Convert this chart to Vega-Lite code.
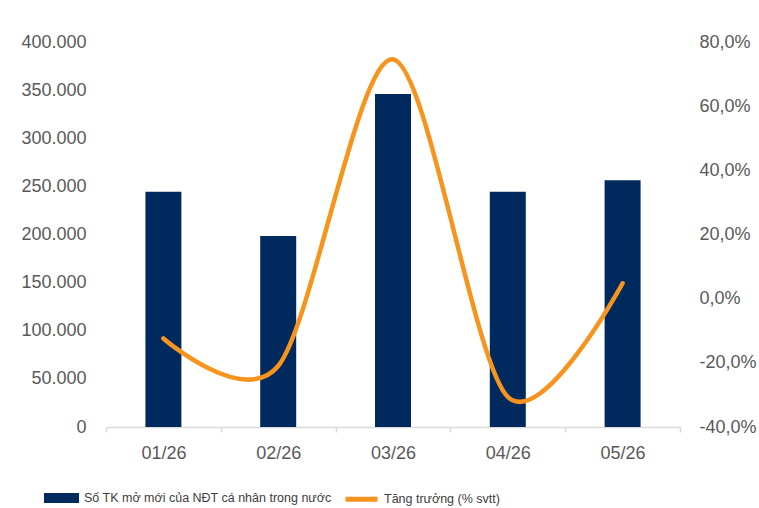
{
  "$schema": "https://vega.github.io/schema/vega-lite/v6.json",
  "width": 574,
  "height": 385,
  "autosize": {"type": "none"},
  "padding": {"left": 106, "top": 42, "right": 79, "bottom": 81},
  "background": "white",
  "config": {
    "view": {"stroke": null},
    "font": "Liberation Sans",
    "axis": {"labelFont": "Liberation Sans", "labelFontSize": 18, "labelColor": "#595959", "grid": false, "title": null}
  },
  "data": {
    "values": [
      {"month": "01/26", "accounts": 244500, "growth": -12.4},
      {"month": "02/26", "accounts": 198400, "growth": -21.0},
      {"month": "03/26", "accounts": 346000, "growth": 74.6},
      {"month": "04/26", "accounts": 244500, "growth": -30.6},
      {"month": "05/26", "accounts": 256300, "growth": 4.8}
    ]
  },
  "encoding": {
    "x": {
      "field": "month", "type": "ordinal",
      "scale": {"paddingInner": 0, "paddingOuter": 0},
      "axis": {"labelAngle": 0, "tickBand": "extent", "domainColor": "#D9D9D9", "tickColor": "#D9D9D9", "tickSize": 5, "labelPadding": 12, "domainWidth": 1.5, "tickWidth": 1.5}
    }
  },
  "layer": [
    {
      "mark": {"type": "bar", "width": 36},
      "encoding": {
        "y": {
          "field": "accounts", "type": "quantitative",
          "scale": {"domain": [0, 400000], "nice": false},
          "axis": {"values": [0, 50000, 100000, 150000, 200000, 250000, 300000, 350000, 400000], "domain": false, "ticks": false, "labelPadding": 20, "labelExpr": "replace(format(datum.value, ','), ',', '.')"}
        },
        "color": {
          "datum": "Số TK mở mới của NĐT cá nhân trong nước",
          "scale": {"domain": ["Số TK mở mới của NĐT cá nhân trong nước", "Tăng trưởng (% svtt)"], "range": ["#002A5E", "#F7941D"]},
          "legend": {
            "orient": "none", "legendX": -63, "legendY": 437, "direction": "horizontal", "title": null,
            "padding": 0, "symbolSize": 1024, "labelFont": "Liberation Sans", "labelFontSize": 12.5, "labelLimit": 500, "labelColor": "#404040", "labelOffset": 4, "columnPadding": 3,
            "encode": {
              "symbols": {
                "update": {
                  "shape": {"signal": "datum.index == 0 ? 'M-0.94,-0.16H0.94V0.16H-0.94Z' : 'M-1,0H1'"},
                  "fill": {"signal": "datum.index == 0 ? '#002A5E' : 'transparent'"},
                  "stroke": {"signal": "datum.index == 0 ? 'transparent' : '#F7941D'"},
                  "strokeWidth": {"value": 5}
                }
              }
            }
          }
        }
      }
    },
    {
      "mark": {"type": "line", "interpolate": "cardinal", "tension": 0.1, "strokeWidth": 4.5, "strokeCap": "round"},
      "encoding": {
        "y": {
          "field": "growth", "type": "quantitative",
          "scale": {"domain": [-40, 80], "nice": false},
          "axis": {"orient": "right", "values": [-40, -20, 0, 20, 40, 60, 80], "domain": false, "ticks": false, "labelPadding": 19, "labelExpr": "replace(replace(format(datum.value, '.1f'), '.', ','), '−', '-') + '%'"}
        },
        "color": {"datum": "Tăng trưởng (% svtt)"}
      }
    }
  ],
  "resolve": {"scale": {"y": "independent"}}
}
